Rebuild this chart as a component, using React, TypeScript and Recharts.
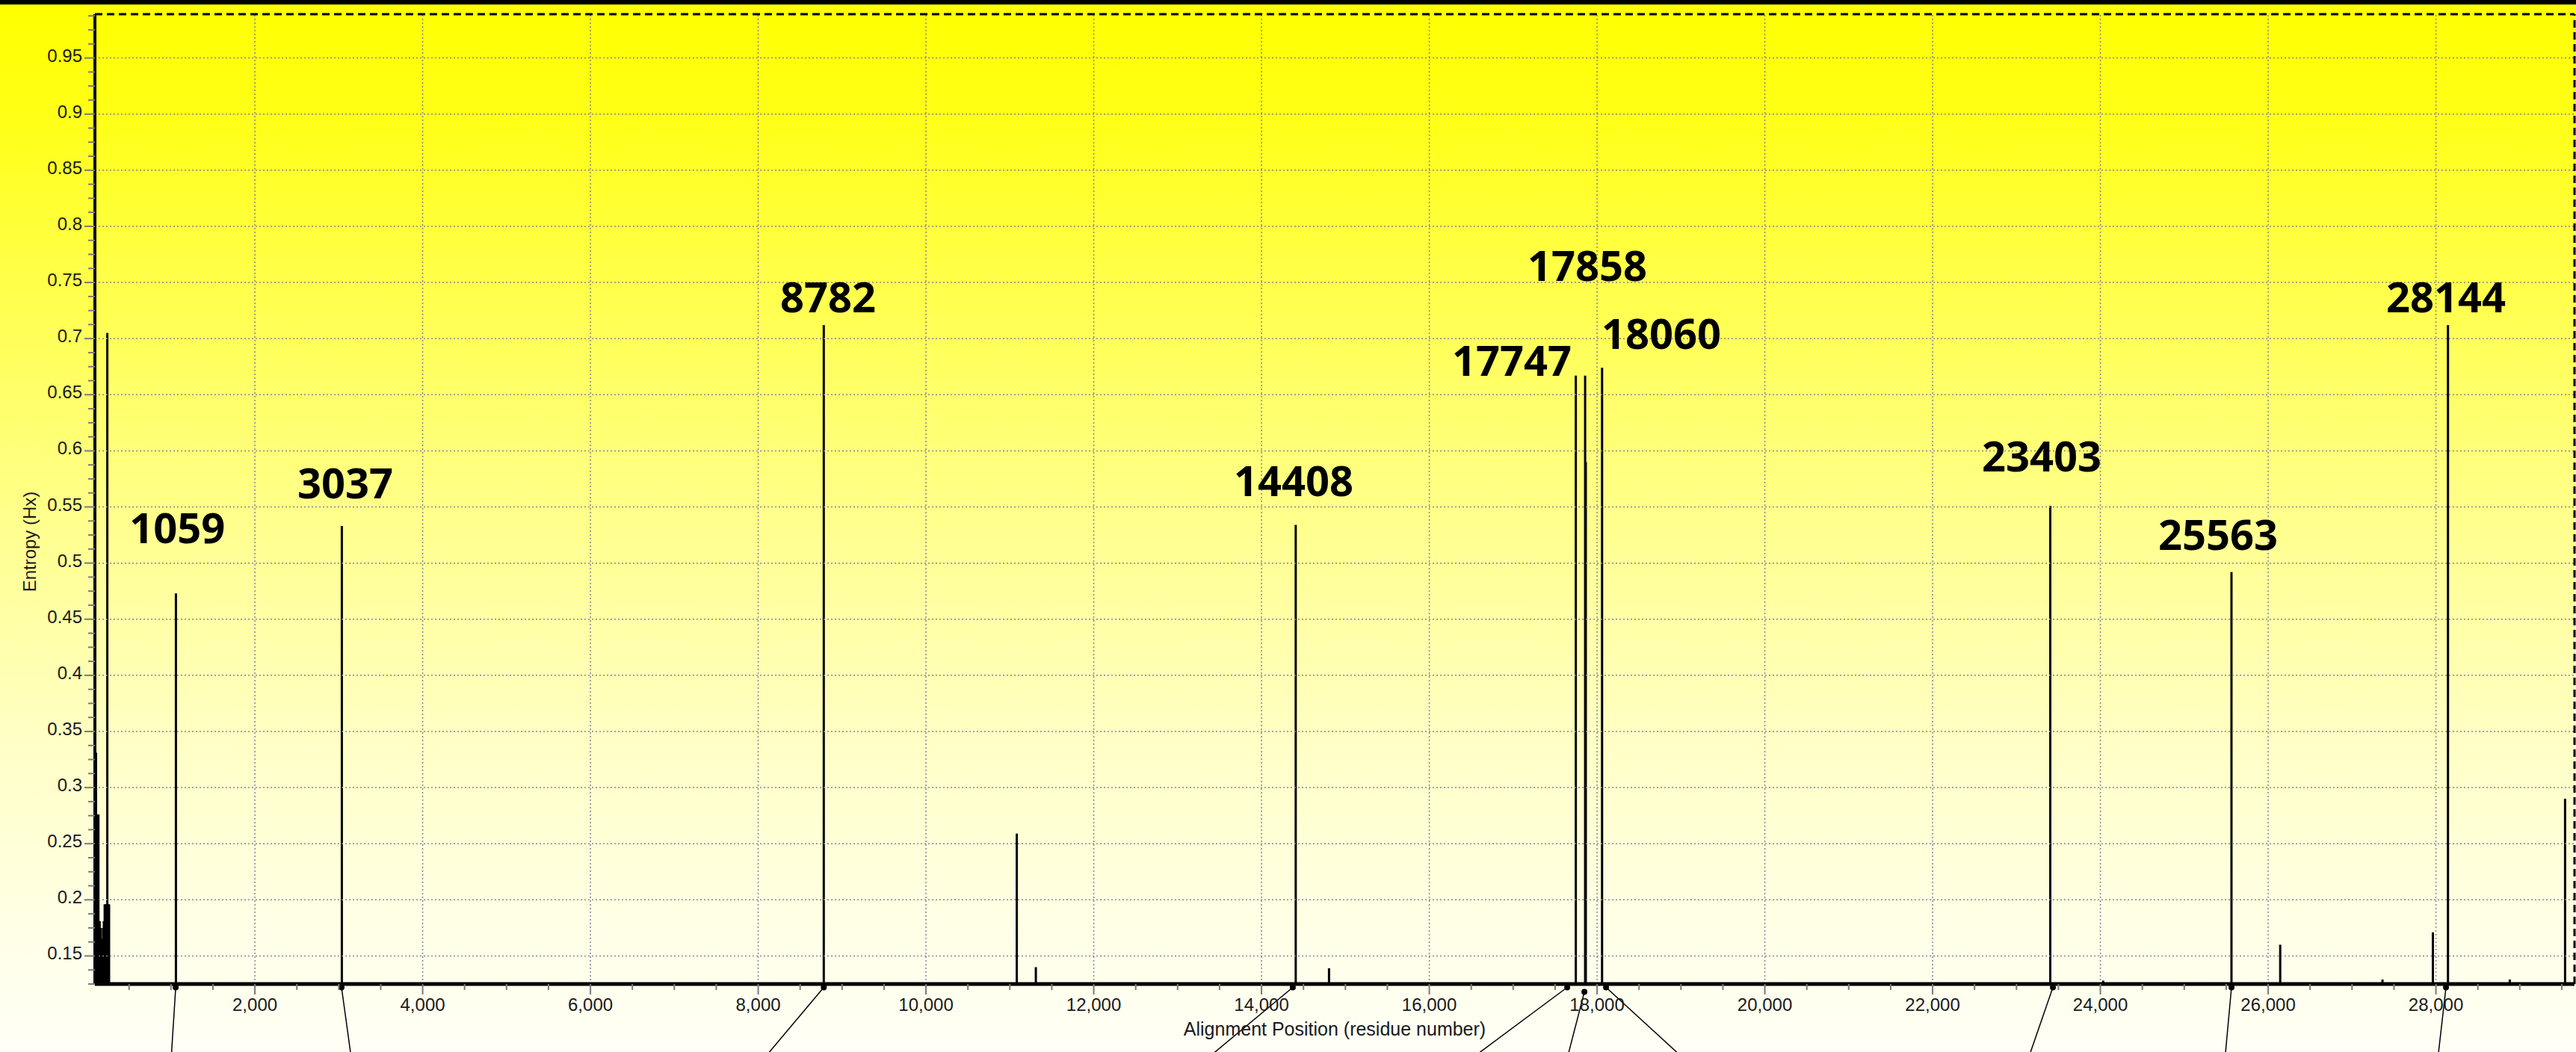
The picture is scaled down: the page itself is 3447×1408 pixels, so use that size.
import React from 'react'
import { Bar, ComposedChart, ReferenceDot, ReferenceLine, Scatter, XAxis, YAxis } from 'recharts'

// alignment position -> entropy (Hx)
const positions = [100, 106, 115, 125, 135, 150, 160, 170, 180, 190, 200, 210, 222, 235, 241, 250, 262,
  1059, 3037, 8782, 11083, 11310, 14408, 14805, 17747, 17858, 17866, 18060, 23403, 24034,
  25563, 26144, 27363, 27964, 28144, 28881, 29540]
const entropy = [0.331, 0.331, 0.276, 0.276, 0.276, 0.181, 0.175, 0.165, 0.165, 0.175, 0.181, 0.196, 0.196, 0.196, 0.705, 0.196, 0.196,
  0.473, 0.533, 0.712, 0.259, 0.14, 0.534, 0.139, 0.667, 0.667, 0.59, 0.674, 0.551, 0.128,
  0.492, 0.16, 0.129, 0.171, 0.712, 0.129, 0.29]

// big callout numbers
const labelText = ['1059', '3037', '8782', '14408', '17747', '17858', '18060', '23403', '25563', '28144']
const labelX = [1075, 3078, 8833, 14383, 16984, 17884, 18766, 23300, 25403, 28120]
const labelY = [0.531, 0.571, 0.737, 0.573, 0.68, 0.765, 0.704, 0.595, 0.525, 0.737]

// leader lines running off the bottom of the picture
const leaderFrom = [1056, 3033, 8782, 14373, 17644, 17849, 18107, 23434, 25563, 28120]
const leaderFromY = [0.122, 0.122, 0.122, 0.122, 0.122, 0.118, 0.122, 0.122, 0.122, 0.122]
const leaderTo = [1007, 3140, 8129, 13439, 16600, 17662, 18954, 23166, 25492, 28031]
const leaderEndY = 0.064

const xDomain = [93, 29652]
const yDomain = [0.125, 0.989]

const xMajor = [2000, 4000, 6000, 8000, 10000, 12000, 14000, 16000, 18000, 20000, 22000, 24000, 26000, 28000]
const yMajor = [0.15, 0.2, 0.25, 0.3, 0.35, 0.4, 0.45, 0.5, 0.55, 0.6, 0.65, 0.7, 0.75, 0.8, 0.85, 0.9, 0.95]

const xTicks: number[] = []
for (let v = 500; v < 29652; v += 500) xTicks.push(v)
const yTicks: number[] = []
for (let i = 0; i < 70; i++) yTicks.push(Math.round((0.125 + i * 0.0125) * 10000) / 10000)

const font = '"Liberation Sans", Arial, sans-serif'
const tickGrey = '#7a7a7a'
const gridGrey = '#86869a'

const XTick = (props: any) => {
  const { x, y, payload } = props
  const major = xMajor.includes(payload.value)
  return (
    <g>
      <line x1={x} x2={x} y1={y} y2={y + (major ? 14 : 8)} stroke={tickGrey} strokeWidth={2} />
      {major && (
        <text x={x} y={y + 36} textAnchor="middle" fontFamily={font} fontSize={24} fill="#1a1a1a">
          {payload.value.toLocaleString('en-US')}
        </text>
      )}
    </g>
  )
}

const YTick = (props: any) => {
  const { x, y, payload } = props
  const major = yMajor.some(m => Math.abs(m - payload.value) < 1e-6)
  return (
    <g>
      <line x1={x} x2={x - (major ? 14 : 9)} y1={y} y2={y} stroke={tickGrey} strokeWidth={2} />
      {major && (
        <text x={x - 17} y={y + 5} textAnchor="end" fontFamily={font} fontSize={24} fill="#1a1a1a">
          {String(payload.value)}
        </text>
      )}
    </g>
  )
}

const XTitle = (props: any) => {
  const vb = props.viewBox || {}
  return (
    <text x={vb.x + vb.width / 2} y={vb.y + 69} textAnchor="middle" fontFamily={font} fontSize={25} fill="#1a1a1a">
      Alignment Position (residue number)
    </text>
  )
}

const YTitle = () => (
  <text x={48} y={725} transform="rotate(-90, 48, 725)" textAnchor="middle" fontFamily={font} fontSize={24} fill="#1a1a1a">
    Entropy (Hx)
  </text>
)

// fixed 3px stick centred on the bar slot, whatever band size recharts picks
const Stick = (props: any) => {
  const { x, y, width, height } = props
  if (height == null || isNaN(height)) return null
  const cx = x + width / 2
  return <rect x={cx - 1.5} y={y} width={3} height={Math.max(height, 0)} fill="#000" />
}

const CallOut = (props: any) => {
  const { cx, cy, payload } = props
  return (
    <text x={cx} y={cy} dy="0.36em" textAnchor="middle" fontFamily='"Open Sans", "Noto Sans", sans-serif' fontWeight={700} fontSize={56} fill="#000">
      {payload.text}
    </text>
  )
}

export default function App() {
  const barData = positions.map((p, i) => ({ pos: p, h: entropy[i] }))
  const labelData = labelText.map((t, i) => ({ pos: labelX[i], y: labelY[i], text: t }))

  return (
    <div
      style={{
        position: 'absolute', left: 0, top: 0, width: 3447, height: 1408, overflow: 'hidden',
        background: 'linear-gradient(to bottom, #ffff00 0%, #ffff14 10%, #ffff44 25%, #ffff8e 50%, #ffffc4 70%, #ffffe6 88%, #fffff6 100%)'
      }}
    >
      <div style={{ position: 'absolute', left: 0, top: 0, width: '100%', height: 6, background: '#000' }} />
      <ComposedChart width={3447} height={1408} data={barData} margin={{ top: 19, right: 2, bottom: 0, left: 0 }}>
        <XAxis
          type="number"
          dataKey="pos"
          domain={xDomain}
          allowDataOverflow
          ticks={xTicks}
          interval={0}
          tickSize={0}
          tickMargin={0}
          tickLine={false}
          tick={<XTick />}
          height={91}
          axisLine={{ stroke: '#000', strokeWidth: 5 }}
          label={<XTitle />}
        />
        <YAxis
          type="number"
          domain={yDomain}
          allowDataOverflow
          ticks={yTicks}
          interval={0}
          tickSize={0}
          tickMargin={0}
          tickLine={false}
          tick={<YTick />}
          width={127}
          axisLine={{ stroke: '#000', strokeWidth: 4 }}
          label={<YTitle />}
        />
        {yMajor.map(v => (
          <ReferenceLine key={'gy' + v} y={v} stroke={gridGrey} strokeWidth={1.5} strokeDasharray="2 3" ifOverflow="visible" />
        ))}
        {xMajor.map(v => (
          <ReferenceLine key={'gx' + v} x={v} stroke={gridGrey} strokeWidth={1.5} strokeDasharray="2 3" ifOverflow="visible" />
        ))}
        <ReferenceLine y={yDomain[1]} stroke="#000" strokeWidth={3} strokeDasharray="10 6" ifOverflow="visible" />
        <ReferenceLine x={xDomain[1]} stroke="#000" strokeWidth={3} strokeDasharray="10 6" ifOverflow="visible" />
        <Bar dataKey="h" fill="#000" barSize={3} shape={<Stick />} isAnimationActive={false} />
        <Scatter data={labelData} dataKey="y" shape={<CallOut />} isAnimationActive={false} />
        {leaderFrom.map((p, i) => (
          <ReferenceLine
            key={'ld' + i}
            segment={[{ x: p, y: leaderFromY[i] }, { x: leaderTo[i], y: leaderEndY }]}
            stroke="#000"
            strokeWidth={1.5}
            ifOverflow="visible"
          />
        ))}
        {leaderFrom.map((p, i) => (
          <ReferenceDot key={'dt' + i} x={p} y={leaderFromY[i]} r={4} fill="#000" stroke="none" ifOverflow="visible" />
        ))}
      </ComposedChart>
    </div>
  )
}
